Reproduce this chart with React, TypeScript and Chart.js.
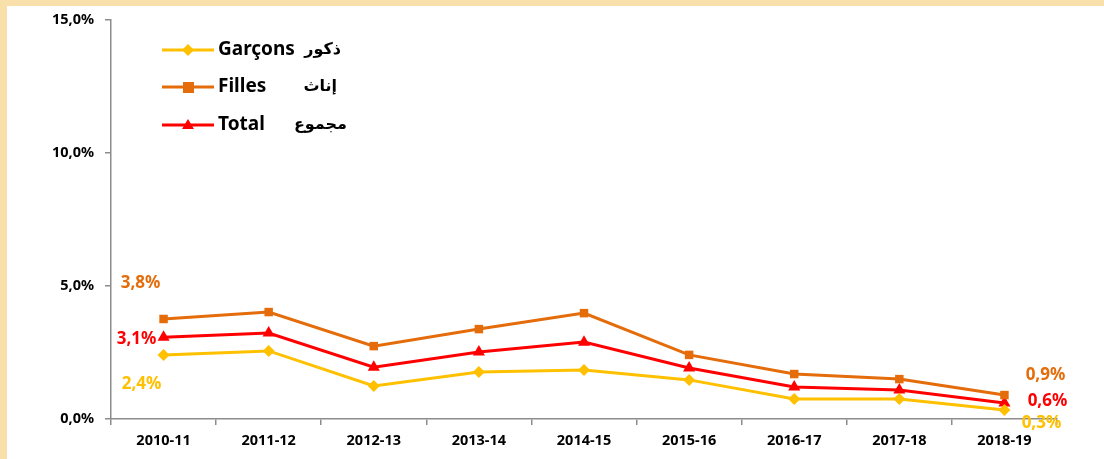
import React, { useEffect, useRef } from "react";
import { Chart, registerables } from "chart.js";

Chart.register(...registerables);

const categories = ["2010-11", "2011-12", "2012-13", "2013-14", "2014-15", "2015-16", "2016-17", "2017-18", "2018-19"];
const garcons = [2.41, 2.56, 1.24, 1.77, 1.84, 1.47, 0.75, 0.75, 0.34];
const filles = [3.76, 4.02, 2.74, 3.38, 3.98, 2.41, 1.69, 1.5, 0.9];
const total = [3.07, 3.23, 1.95, 2.52, 2.89, 1.92, 1.2, 1.09, 0.6];
const yTicks = [0, 5, 10, 15];
const legendFr = ["Garçons", "Filles", "Total"];
const legendAr = ["ذكور", "إناث", "مجموع"];

const YELLOW = "#FFC000";
const ORANGE = "#E46C0A";
const RED = "#FF0000";
const FONT = "'Noto Sans', 'DejaVu Sans', sans-serif";

const fmt = (v: number, d: number) => v.toFixed(d).replace(".", ",") + "%";

export default function App() {
  const ref = useRef<HTMLCanvasElement | null>(null);
  useEffect(() => {
    if (!ref.current) return;
    const bgPlugin = {
      id: "bg",
      beforeDraw(chart: any) {
        const ctx = chart.ctx;
        ctx.save();
        ctx.fillStyle = "#F9E0AA";
        ctx.fillRect(0, 0, chart.width, chart.height);
        ctx.fillStyle = "#FFFFFF";
        ctx.fillRect(7, 6, chart.width - 7, chart.height - 6);
        ctx.restore();
      },
    };
    const labelOffsets: Record<number, [number, number][]> = {
      0: [[-22, 29], [37, 13]],
      1: [[-23, -36], [41, -20]],
      2: [[-27, 2], [43, -2]],
    };
    const labelsPlugin = {
      id: "endLabels",
      afterDatasetsDraw(chart: any) {
        const ctx = chart.ctx;
        ctx.save();
        ctx.font = `bold 17px ${FONT}`;
        ctx.textAlign = "center";
        ctx.textBaseline = "middle";
        chart.data.datasets.forEach((ds: any, i: number) => {
          const meta = chart.getDatasetMeta(i);
          const n = ds.data.length;
          [0, n - 1].forEach((idx, k) => {
            const pt = meta.data[idx];
            const [dx, dy] = labelOffsets[i][k];
            ctx.fillStyle = ds.borderColor;
            ctx.fillText(fmt(ds.data[idx], 1), pt.x + dx, pt.y + dy);
          });
        });
        ctx.restore();
      },
    };
    const legendPlugin = {
      id: "customLegend",
      afterDraw(chart: any) {
        const ctx = chart.ctx;
        ctx.save();
        const rows = [50, 87, 125];
        const arX = [341, 337, 347];
        chart.data.datasets.forEach((ds: any, i: number) => {
          const y = rows[i];
          ctx.strokeStyle = ds.borderColor;
          ctx.lineWidth = 3;
          ctx.beginPath();
          ctx.moveTo(162, y);
          ctx.lineTo(214, y);
          ctx.stroke();
          ctx.fillStyle = ds.borderColor;
          ctx.beginPath();
          if (i === 0) {
            ctx.moveTo(188, y - 6);
            ctx.lineTo(194, y);
            ctx.lineTo(188, y + 6);
            ctx.lineTo(182, y);
            ctx.closePath();
          } else if (i === 1) {
            ctx.rect(183, y - 5, 11, 11);
          } else {
            ctx.moveTo(188, y - 6);
            ctx.lineTo(194, y + 4);
            ctx.lineTo(182, y + 4);
            ctx.closePath();
          }
          ctx.fill();
          ctx.fillStyle = "#000000";
          ctx.font = `bold 19px ${FONT}`;
          ctx.textBaseline = "middle";
          ctx.textAlign = "left";
          ctx.fillText(legendFr[i], 218, y);
          ctx.textAlign = "right";
          ctx.font = `bold 16px 'DejaVu Sans', sans-serif`;
          ctx.fillText(legendAr[i], arX[i], y);
        });
        ctx.restore();
      },
    };
    const chart = new Chart(ref.current, {
      type: "line",
      data: {
        labels: categories,
        datasets: [
          {
            label: "Garçons ذكور",
            data: garcons,
            borderColor: YELLOW,
            backgroundColor: YELLOW,
            borderWidth: 3,
            pointStyle: "rectRot",
            pointRadius: 6,
            pointBorderWidth: 0,
          },
          {
            label: "Filles إناث",
            data: filles,
            borderColor: ORANGE,
            backgroundColor: ORANGE,
            borderWidth: 3,
            pointStyle: "rect",
            pointRadius: 6,
            pointBorderWidth: 0,
          },
          {
            label: "Total مجموع",
            data: total,
            borderColor: RED,
            backgroundColor: RED,
            borderWidth: 3,
            pointStyle: "triangle",
            pointRadius: 7,
            pointBorderWidth: 0,
          },
        ],
      },
      options: {
        animation: false,
        responsive: false,
        layout: { padding: { left: 8, right: 47, top: 20, bottom: 0 } },
        plugins: { legend: { display: false }, tooltip: { enabled: false } },
        scales: {
          x: {
            offset: true,
            grid: { offset: true, drawOnChartArea: false, drawTicks: true, tickLength: 6, color: "#8C8C8C", lineWidth: 1.5 },
            border: { color: "#8C8C8C", width: 1.5 },
            ticks: { color: "#000", font: { family: FONT, size: 14.5, weight: "bold" }, padding: 7, maxRotation: 0 },
            afterFit(scale: any) {
              scale.height = 40;
            },
          },
          y: {
            min: 0,
            max: 15,
            afterBuildTicks(scale: any) {
              scale.ticks = yTicks.map((v) => ({ value: v }));
            },
            grid: { drawOnChartArea: false, drawTicks: true, tickLength: 6, color: "#8C8C8C", lineWidth: 1.5 },
            border: { color: "#8C8C8C", width: 1.5 },
            ticks: {
              color: "#000",
              font: { family: FONT, size: 14.5, weight: "bold" },
              padding: 11,
              callback: (v: any) => fmt(Number(v), 1),
            },
            afterFit(scale: any) {
              scale.width = 103;
            },
          },
        },
      },
      plugins: [bgPlugin, labelsPlugin, legendPlugin],
    });
    return () => chart.destroy();
  }, []);
  return (
    <div style={{ position: "fixed", left: 0, top: 0, width: 1104, height: 459 }}>
      <canvas ref={ref} width={1104} height={459} style={{ display: "block" }} />
    </div>
  );
}
